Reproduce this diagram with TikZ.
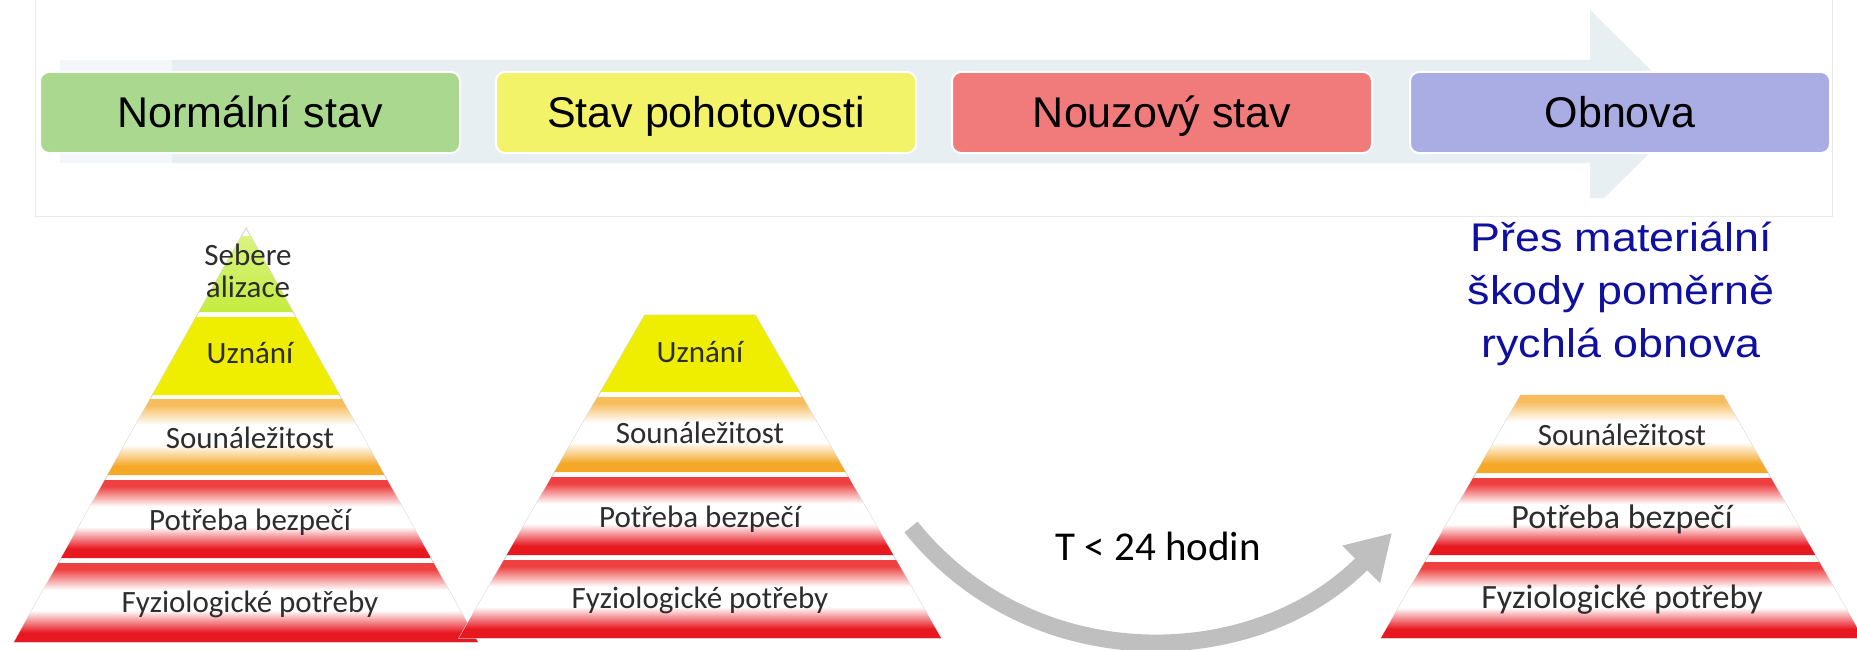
\documentclass[tikz,border=0pt]{standalone}
\usepackage{fontspec}
\setmainfont{Liberation Sans}
\newfontfamily\calfont{Carlito}
\usetikzlibrary{arrows.meta}

\definecolor{paleArrow}{RGB}{232,239,243}
\definecolor{paleFade}{RGB}{244,247,249}
\definecolor{frameGray}{RGB}{234,234,234}
\definecolor{boxGreen}{RGB}{170,216,142}
\definecolor{boxYellow}{RGB}{242,243,104}
\definecolor{boxRed}{RGB}{241,122,122}
\definecolor{boxBlue}{RGB}{170,172,228}
\definecolor{pyrYellow}{RGB}{240,238,0}
\definecolor{pyrLime}{RGB}{196,236,62}
\definecolor{pyrLimeLt}{RGB}{218,243,130}
\definecolor{pyrOrange}{RGB}{245,168,40}
\definecolor{pyrOrangeLt}{RGB}{247,188,92}
\definecolor{pyrRed}{RGB}{232,24,32}
\definecolor{pyrRedLt}{RGB}{238,64,64}
\definecolor{pyrEdge}{RGB}{215,215,215}
\definecolor{txtGray}{RGB}{45,45,45}
\definecolor{navyText}{RGB}{16,16,160}
\definecolor{arrowGray}{RGB}{191,191,191}

\pgfdeclareverticalshading{redband}{100bp}{color(0bp)=(pyrRed); color(25bp)=(pyrRed); color(31bp)=(pyrRed); color(45bp)=(white); color(58bp)=(white); color(71bp)=(pyrRedLt); color(75bp)=(pyrRedLt); color(100bp)=(pyrRedLt)}
\pgfdeclareverticalshading{orangeband}{100bp}{color(0bp)=(pyrOrange); color(25bp)=(pyrOrange); color(31bp)=(pyrOrange); color(45bp)=(white); color(58bp)=(white); color(71bp)=(pyrOrangeLt); color(75bp)=(pyrOrangeLt); color(100bp)=(pyrOrangeLt)}
\pgfdeclareverticalshading{limeband}{100bp}{color(0bp)=(pyrLime); color(25bp)=(pyrLime); color(75bp)=(pyrLimeLt); color(100bp)=(pyrLimeLt)}

% #1 centre x, #2 apex y, #3 slope, #4 top y, #5 bottom y, #6 options
\newcommand{\PyrBand}[6]{%
  \pgfmathsetmacro{\pbT}{#3*(#4-#2)}%
  \pgfmathsetmacro{\pbB}{#3*(#5-#2)}%
  \path[#6] ({#1-\pbT},#4) -- ({#1+\pbT},#4) -- ({#1+\pbB},#5) -- ({#1-\pbB},#5) -- cycle;%
}

\begin{document}
\begin{tikzpicture}[x=1pt,y=-1pt,
  phase/.style={rounded corners=9pt, draw=white, line width=2pt,
    minimum width=420pt, minimum height=81pt, inner sep=0pt,
    text height=35pt, text depth=5pt,
    font=\fontsize{43}{50}\selectfont, text=black},
  pyrtext/.style={font=\calfont\fontsize{31}{34}\selectfont, text=txtGray, anchor=base, inner sep=0pt},
  pyrtextL/.style={pyrtext, font=\calfont\fontsize{34}{37}\selectfont},
  bluetext/.style={font=\fontsize{40}{48}\selectfont, text=navyText, anchor=base, inner sep=0pt},
  edgeline/.style={draw=pyrEdge, line width=1pt},
  redsh/.style={shade, shading=redband},
  orangesh/.style={shade, shading=orangeband},
  limesh/.style={shade, shading=limeband},
  yellowsh/.style={fill=pyrYellow},
  bigarrow/.style={line width=17pt, arrowGray, -{Triangle[width=50pt,length=44pt]}}
]
\useasboundingbox (0,0) rectangle (1857,650);
\fill[white] (0,0) rectangle (1857,650);

% faint frame of the top banner
\draw[frameGray, line width=1pt] (35,0) -- (35,216) -- (1832,216) -- (1832,0);

% pale timeline arrow
\fill[paleFade] (60,60) rectangle (172,163);
\fill[paleArrow] (172,60) -- (1590,60) -- (1590,10) -- (1692,111) -- (1604,198)
  -- (1590,198) -- (1590,163) -- (172,163) -- cycle;

% phase boxes
\node[phase, fill=boxGreen]  (sNormal)  at (250,112.5)  {Normální stav};
\node[phase, fill=boxYellow] (sPohot)   at (706,112.5)  {Stav pohotovosti};
\node[phase, fill=boxRed]    (sNouz)    at (1162,112.5) {Nouzový stav};
\node[phase, fill=boxBlue]   (sObnova)  at (1620,112.5) {Obnova};

% ---------- pyramid 1 ----------
\PyrBand{246}{228}{0.56}{228}{642}{edgeline}
\PyrBand{246}{228}{0.56}{236}{312}{limesh}
\PyrBand{246}{228}{0.56}{317}{395}{yellowsh}
\PyrBand{246}{228}{0.56}{399}{475}{orangesh}
\PyrBand{246}{228}{0.56}{480}{558}{redsh}
\PyrBand{246}{228}{0.56}{563}{642}{redsh}
\node[pyrtext] (p1s1) at (248,265) {Sebere};
\node[pyrtext] (p1s2) at (248,297) {alizace};
\node[pyrtext] (p1u)  at (250,363) {Uznání};
\node[pyrtext] (p1so) at (250,448) {Sounáležitost};
\node[pyrtext] (p1b)  at (250,530) {Potřeba bezpečí};
\node[pyrtext] (p1f)  at (250,612) {Fyziologické potřeby};

% ---------- pyramid 2 ----------
\PyrBand{700}{219}{0.575}{315}{638}{edgeline}
\PyrBand{700}{219}{0.575}{315}{392}{yellowsh}
\PyrBand{700}{219}{0.575}{397}{472}{orangesh}
\PyrBand{700}{219}{0.575}{477}{555}{redsh}
\PyrBand{700}{219}{0.575}{560}{638}{redsh}
\node[pyrtext] (p2u)  at (700,362) {Uznání};
\node[pyrtext] (p2so) at (700,443) {Sounáležitost};
\node[pyrtext] (p2b)  at (700,527) {Potřeba bezpečí};
\node[pyrtext] (p2f)  at (700,608) {Fyziologické potřeby};

% ---------- pyramid 3 ----------
\PyrBand{1622}{219}{0.575}{395}{638}{edgeline}
\PyrBand{1622}{219}{0.575}{395}{473}{orangesh}
\PyrBand{1622}{219}{0.575}{478}{555}{redsh}
\PyrBand{1622}{219}{0.575}{562}{638}{redsh}
\node[pyrtext]  (p3so) at (1622,445) {Sounáležitost};
\node[pyrtextL] (p3b)  at (1622,528) {Potřeba bezpečí};
\node[pyrtextL] (p3f)  at (1622,608) {Fyziologické potřeby};

% blue caption
\node[bluetext] (cap1) at (1621,251) {\scalebox{1.12}[1]{Přes materiální}};
\node[bluetext] (cap2) at (1621,304) {\scalebox{1.12}[1]{škody poměrně}};
\node[bluetext] (cap3) at (1621,357) {\scalebox{1.12}[1]{rychlá obnova}};

% time arrow
\coordinate (arrS) at (911,527);
\coordinate (arrE) at (1392,533);
\draw[bigarrow] (arrS) .. controls (1033,679) and (1255,672) .. (arrE);
\node[font=\calfont\fontsize{41}{46}\selectfont, text=black, anchor=base, inner sep=0pt]
  (tlabel) at (1158,560) {T < 24 hodin};
\end{tikzpicture}
\end{document}
